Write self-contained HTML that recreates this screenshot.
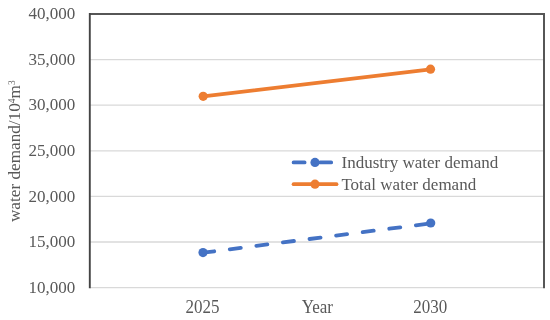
<!DOCTYPE html>
<html><head><meta charset="utf-8">
<style>
html,body{margin:0;padding:0;background:#fff;width:550px;height:320px;overflow:hidden}
svg{display:block;will-change:transform}
text{font-family:"Liberation Serif",serif;fill:#595959}
</style></head><body>
<svg width="550" height="320" viewBox="0 0 550 320" xmlns="http://www.w3.org/2000/svg">
<rect x="0" y="0" width="550" height="320" fill="#fff"/>
<!-- gridlines -->
<g stroke="#d9d9d9" stroke-width="1.3">
<line x1="90" y1="59.6" x2="543" y2="59.6"/>
<line x1="90" y1="105.2" x2="543" y2="105.2"/>
<line x1="90" y1="150.8" x2="543" y2="150.8"/>
<line x1="90" y1="196.4" x2="543" y2="196.4"/>
<line x1="90" y1="242" x2="543" y2="242"/>
<line x1="90" y1="287.6" x2="543" y2="287.6"/>
</g>
<!-- border -->
<path d="M89.8 14 H544 V288.2" fill="none" stroke="#565656" stroke-width="2"/>
<line x1="89.8" y1="13" x2="89.8" y2="288.2" stroke="#444" stroke-width="1.9"/>
<!-- y tick labels -->
<g font-size="17" text-anchor="end">
<text x="75.3" y="18.9">40,000</text>
<text x="75.3" y="64.6">35,000</text>
<text x="75.3" y="110.3">30,000</text>
<text x="75.3" y="155.9">25,000</text>
<text x="75.3" y="201.6">20,000</text>
<text x="75.3" y="247.3">15,000</text>
<text x="75.3" y="292.9">10,000</text>
</g>
<!-- x labels -->
<g font-size="17" text-anchor="middle">
<text transform="translate(202.6 313.2) scale(1 1.06)">2025</text>
<text transform="translate(317.3 313.2) scale(1 1.06)">Year</text>
<text transform="translate(430.3 313.2) scale(1 1.06)">2030</text>
</g>
<!-- y title -->
<text transform="translate(20.1 151.2) rotate(-90)" font-size="17.2" text-anchor="middle">water demand/10<tspan font-size="9.5" dy="-5.6">4</tspan><tspan dy="5.6">m</tspan><tspan font-size="9.5" dy="-5.6">3</tspan></text>
<!-- legend -->
<rect x="285" y="152" width="220" height="43" fill="#fff"/>
<line x1="293.6" y1="162.4" x2="336.5" y2="162.4" stroke="#4472c4" stroke-width="3.8" stroke-dasharray="11 15.6" stroke-linecap="round"/>
<circle cx="315" cy="162.4" r="4.6" fill="#4472c4"/>
<line x1="293.6" y1="184.2" x2="336.5" y2="184.2" stroke="#ed7d31" stroke-width="3.8" stroke-linecap="round"/>
<circle cx="315" cy="184.2" r="4.6" fill="#ed7d31"/>
<g font-size="17">
<text x="341.6" y="167.7">Industry water demand</text>
<text x="341.4" y="189.8">Total water demand</text>
</g>
<!-- series -->
<line x1="203.2" y1="96.4" x2="430.5" y2="69.4" stroke="#ed7d31" stroke-width="3.8" stroke-linecap="round"/>
<circle cx="203.2" cy="96.3" r="4.6" fill="#ed7d31"/>
<circle cx="430.5" cy="69.2" r="4.6" fill="#ed7d31"/>
<line x1="203.2" y1="252.7" x2="430.6" y2="223.4" stroke="#4472c4" stroke-width="3.8" stroke-dasharray="11.1 15.7" stroke-linecap="round"/>
<circle cx="203" cy="252.6" r="4.6" fill="#4472c4"/>
<circle cx="430.7" cy="223" r="4.6" fill="#4472c4"/>
</svg>
</body></html>
